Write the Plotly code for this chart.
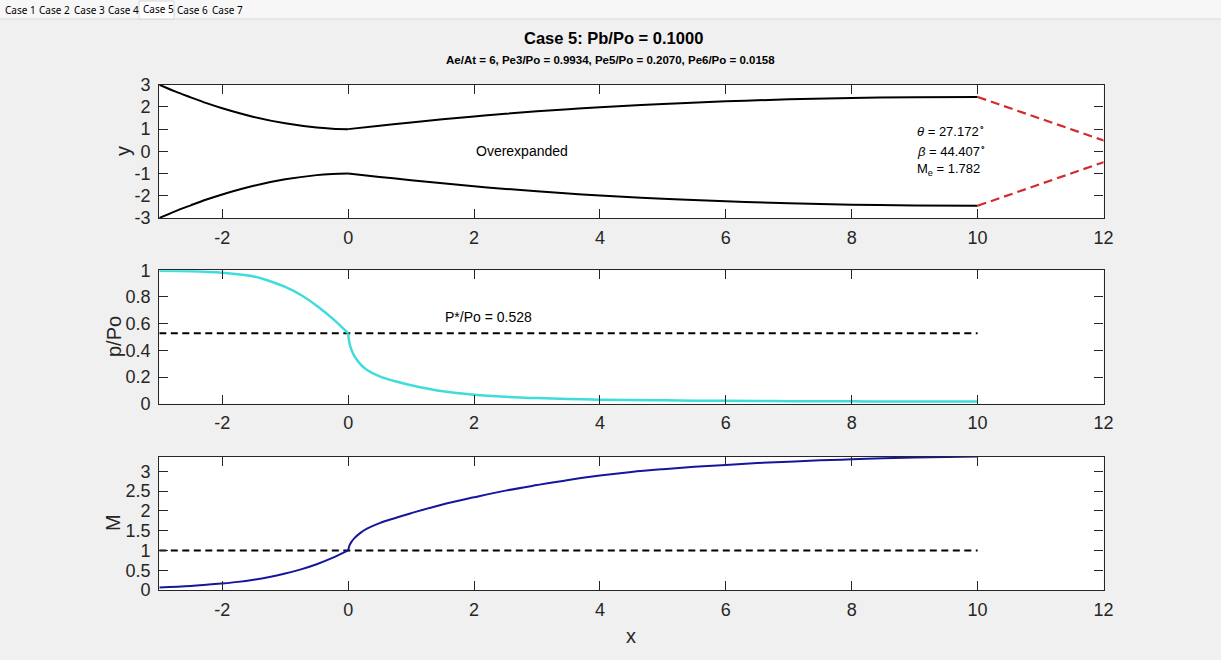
import plotly.graph_objects as go

# ---------------- data ----------------
# nozzle wall radius, converging part and diverging part
x_conv = [-3.0, -2.75, -2.5, -2.25, -2.0, -1.5, -1.0, -0.5, -0.25, 0.0]
r_conv = [3.0, 2.70, 2.43, 2.17, 1.94, 1.55, 1.26, 1.07, 1.02, 1.0]
x_div = [0.0, 0.5, 1.0, 1.5, 2.0, 2.5, 3.0, 3.5, 4.0, 5.0, 6.0, 7.0, 8.0, 9.0, 10.0]
r_div = [1.0, 1.15, 1.30, 1.44, 1.57, 1.69, 1.80, 1.90, 1.99, 2.13, 2.25, 2.34, 2.40,
         2.437, 2.449]

# oblique shock lines leaving the lip
shock_x = [10.0, 12.5]
shock_y = [2.449, 0.0]

# pressure ratio p/Po and Mach number, subsonic part
x_sub = [-3.0, -2.5, -2.0, -1.75, -1.5, -1.25, -1.0, -0.75, -0.5, -0.25, 0.0]
p_sub = [0.997, 0.993, 0.982, 0.971, 0.954, 0.92, 0.875, 0.815, 0.735, 0.64, 0.528]
M_sub = [0.066, 0.10, 0.165, 0.205, 0.26, 0.33, 0.415, 0.52, 0.65, 0.81, 1.0]

# supersonic part
x_sup = [0.0, 0.02, 0.05, 0.1, 0.2, 0.3, 0.5, 0.75, 1.0, 1.5, 2.0, 2.5, 3.0, 3.5,
         4.0, 4.5, 5.0, 5.5, 6.0, 6.5, 7.0, 7.5, 8.0, 8.5, 9.0, 9.5, 10.0]
p_sup = [0.528, 0.457, 0.407, 0.356, 0.293, 0.253, 0.205, 0.168, 0.139, 0.094, 0.068,
         0.052, 0.042, 0.035, 0.030, 0.027, 0.0250, 0.0230, 0.0214, 0.0200, 0.0190,
         0.0181, 0.0175, 0.0169, 0.0164, 0.0160, 0.0158]
M_sup = [1.0, 1.12, 1.21, 1.31, 1.45, 1.55, 1.69, 1.82, 1.94, 2.16, 2.34, 2.51, 2.65,
         2.78, 2.89, 2.98, 3.05, 3.11, 3.16, 3.205, 3.24, 3.275, 3.30, 3.325, 3.345,
         3.36, 3.369]

# reference lines
ref_x = [-3.0, 10.0]
p_star = 0.528
M_one = 1.0

x_ticks = [-2, 0, 2, 4, 6, 8, 10, 12]
y1_ticks = [-3, -2, -1, 0, 1, 2, 3]
y2_ticks = [0, 0.2, 0.4, 0.6, 0.8, 1]
y3_ticks = [0, 0.5, 1, 1.5, 2, 2.5, 3]
tabs = ["Case 1", "Case 2", "Case 3", "Case 4", "Case 5", "Case 6", "Case 7"]

# ---------------- figure ----------------
W, H = 1221, 660
FONT = "Liberation Sans, Arial, Helvetica, sans-serif"
AX = "#262626"
BLACK = "#000000"
CYAN = "#3fdcdc"
BLUE = "#16169c"
RED = "#d42a2a"

fig = go.Figure()

def line(x, y, color, width, xa, ya, dash=None, shape="spline"):
    fig.add_trace(go.Scatter(
        x=x, y=y, mode="lines", xaxis=xa, yaxis=ya, showlegend=False,
        hoverinfo="skip",
        line=dict(color=color, width=width, dash=dash, shape=shape, smoothing=1.0)))

# top: nozzle geometry
line(x_conv, r_conv, BLACK, 2, "x", "y")
line(x_conv, [-v for v in r_conv], BLACK, 2, "x", "y")
line(x_div, r_div, BLACK, 2, "x", "y")
line(x_div, [-v for v in r_div], BLACK, 2, "x", "y")
line(shock_x, shock_y, RED, 2.2, "x", "y", dash="9px,5px", shape="linear")
line(shock_x, [-v for v in shock_y], RED, 2.2, "x", "y", dash="9px,5px", shape="linear")

# middle: pressure
line(ref_x, [p_star, p_star], BLACK, 2, "x2", "y2", dash="7px,4.5px", shape="linear")
line(x_sub, p_sub, CYAN, 2.5, "x2", "y2")
line(x_sup, p_sup, CYAN, 2.5, "x2", "y2")

# bottom: Mach
line(ref_x, [M_one, M_one], BLACK, 2, "x3", "y3", dash="7px,4.5px", shape="linear")
line(x_sub, M_sub, BLUE, 2, "x3", "y3")
line(x_sup, M_sup, BLUE, 2, "x3", "y3")

xdom = [159.3 / W, 1103.5 / W]
def ydom(top_px, bot_px):
    return [1 - bot_px / H, 1 - top_px / H]

def fmt(v):
    return ("%g" % v)

axis_common = dict(
    showline=True, mirror="ticks", linecolor=AX, linewidth=1.3,
    ticks="inside", ticklen=9, tickwidth=1.3, tickcolor=AX,
    showgrid=False, zeroline=False, automargin=False,
    tickfont=dict(family=FONT, size=18, color=AX),
)

layout_axes = {}
for i, (yd, yr, yt) in enumerate([
        (ydom(84.7, 218.0), [-3, 3], y1_ticks),
        (ydom(270.3, 403.7), [0, 1], y2_ticks),
        (ydom(456.6, 590.0), [0, 3.369], y3_ticks)], start=1):
    sfx = "" if i == 1 else str(i)
    layout_axes["xaxis" + sfx] = dict(
        axis_common, domain=xdom, range=[-3, 12], tickvals=x_ticks,
        ticktext=[fmt(v) for v in x_ticks], anchor="y" + sfx, ticklabelstandoff=3)
    layout_axes["yaxis" + sfx] = dict(
        axis_common, domain=yd, range=yr, tickvals=yt,
        ticktext=[fmt(v) for v in yt], anchor="x" + sfx, ticklabelstandoff=4)

fig.update_layout(
    template="none",
    width=W, height=H, autosize=False,
    margin=dict(l=0, r=0, t=0, b=0, pad=0, autoexpand=False),
    paper_bgcolor="#f0f0f0", plot_bgcolor="#ffffff",
    font=dict(family=FONT, color=AX),
    showlegend=False,
    **layout_axes,
)

ann = []
# titles
ann.append(dict(text="<b>Case 5: Pb/Po = 0.1000</b>", xref="paper", yref="paper",
                x=613 / W, y=1 - 38 / H, xanchor="center", yanchor="middle",
                showarrow=False, font=dict(family=FONT, size=16.5, color="#000000")))
ann.append(dict(text="<b>Ae/At = 6, Pe3/Po = 0.9934, Pe5/Po = 0.2070, Pe6/Po = 0.0158</b>",
                xref="paper", yref="paper", x=610 / W, y=1 - 60 / H,
                xanchor="center", yanchor="middle", showarrow=False,
                font=dict(family=FONT, size=11.5, color="#000000")))
# axis labels
for txt, px_, py in [("y", 123, 151), ("p/Po", 114, 337), ("M", 113, 523)]:
    ann.append(dict(text=txt, xref="paper", yref="paper", x=px_ / W, y=1 - py / H,
                    xanchor="center", yanchor="middle", textangle=-90, showarrow=False,
                    font=dict(family=FONT, size=20, color=AX)))
ann.append(dict(text="x", xref="paper", yref="paper", x=631 / W, y=1 - 636 / H,
                xanchor="center", yanchor="middle", showarrow=False,
                font=dict(family=FONT, size=20, color=AX)))
# in-plot text
ann.append(dict(text="Overexpanded", xref="x", yref="y", x=2, y=0, xanchor="left",
                yanchor="middle", showarrow=False, font=dict(family=FONT, size=14, color="#000")))
ann.append(dict(text="<i>θ</i> = 27.172<sup>∘</sup>", xref="x", yref="y", x=9, y=0,
                yshift=20, xanchor="left", yanchor="middle", showarrow=False,
                font=dict(family=FONT, size=13, color="#000")))
ann.append(dict(text="<i>β</i> = 44.407<sup>∘</sup>", xref="x", yref="y", x=9, y=0,
                yshift=0, xanchor="left", yanchor="middle", showarrow=False,
                font=dict(family=FONT, size=13, color="#000")))
ann.append(dict(text="M<sub>e</sub> = 1.782", xref="x", yref="y", x=9, y=0,
                yshift=-18, xanchor="left", yanchor="middle", showarrow=False,
                font=dict(family=FONT, size=13, color="#000")))
ann.append(dict(text="P*/Po = 0.528", xref="x2", yref="y2", x=1.5, y=0.65,
                xanchor="left", yanchor="middle", showarrow=False,
                font=dict(family=FONT, size=14, color="#000")))

# tab strip
tab_left = [3, 37, 72, 106, 141, 175, 210]
shapes = [
    dict(type="rect", xref="paper", yref="paper", x0=0, x1=1, y0=1 - 19 / H, y1=1,
         fillcolor="#f7f7f7", line=dict(width=0), layer="below"),
    dict(type="line", xref="paper", yref="paper", x0=0, x1=1, y0=1 - 19 / H, y1=1 - 19 / H,
         line=dict(color="#dadada", width=1)),
    dict(type="rect", xref="paper", yref="paper", x0=139 / W, x1=174 / W,
         y0=1 - 19 / H, y1=1 - 1 / H, fillcolor="#ffffff",
         line=dict(color="#d6d6d6", width=1)),
]
for name, lx in zip(tabs, tab_left):
    sel = name == "Case 5"
    ann.append(dict(text=name, xref="paper", yref="paper", x=lx / W,
                    y=1 - (9 if sel else 10) / H, xanchor="left", yanchor="middle",
                    showarrow=False, font=dict(family="Noto Sans, Open Sans, sans-serif",
                                               size=10, color="#000000")))

fig.update_layout(annotations=ann, shapes=shapes)

fig.write_html("out.html", config={"displayModeBar": False, "responsive": False})
